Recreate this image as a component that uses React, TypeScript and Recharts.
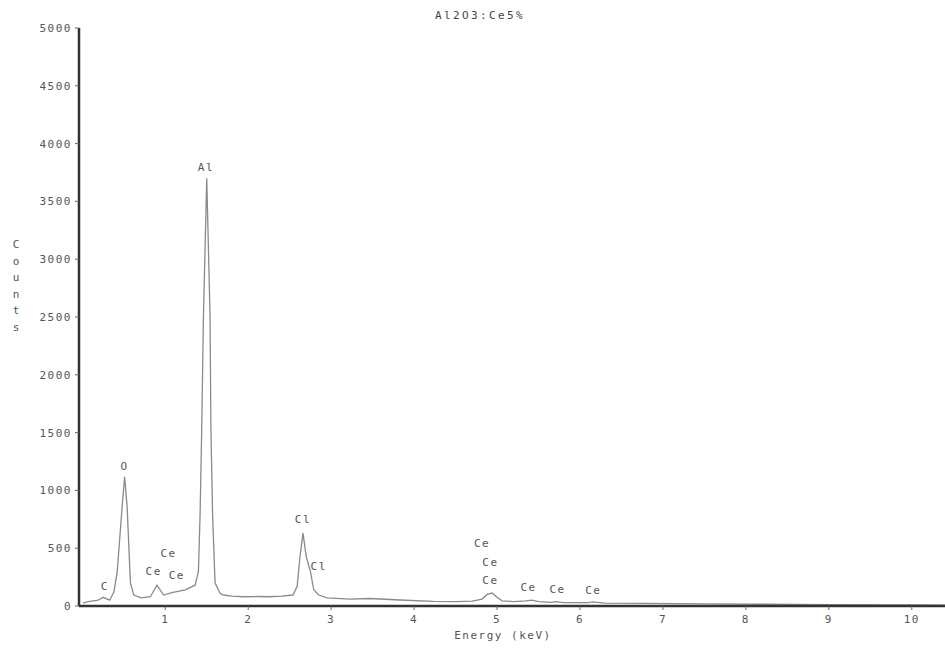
import React from "react";
import { ComposedChart, Line, Scatter, XAxis, YAxis } from "recharts";

// EDS spectrum: energy (keV) and counts
const energy = [
  0.01, 0.07, 0.19, 0.25, 0.33, 0.38, 0.42, 0.48, 0.51, 0.54, 0.58, 0.62,
  0.71, 0.82, 0.9, 0.98, 1.08, 1.24, 1.36, 1.4, 1.42, 1.44, 1.46, 1.5,
  1.54, 1.55, 1.57, 1.6, 1.66, 1.7, 1.8, 1.94, 2.1, 2.25, 2.4, 2.54, 2.59,
  2.62, 2.66, 2.7, 2.75, 2.79, 2.85, 2.95, 3.23, 3.47, 3.83, 4.23, 4.5,
  4.7, 4.82, 4.88, 4.94, 5.0, 5.06, 5.2, 5.35, 5.42, 5.5, 5.65, 5.7, 5.8,
  6.1, 6.15, 6.3, 6.8, 7.5, 8.2, 9.0, 10.0, 10.4,
];
const counts = [
  25, 37, 50, 75, 50, 120, 290, 860, 1118, 860, 200, 95,
  70, 80, 180, 95, 115, 140, 180, 300, 800, 1550, 2500, 3700,
  2500, 1550, 800, 200, 110, 95, 85, 80, 82, 80, 85, 95, 170,
  400, 630, 425, 300, 140, 95, 70, 60, 65, 52, 40, 38,
  42, 60, 100, 112, 75, 45, 38, 45, 50, 38, 32, 38, 30,
  30, 35, 25, 22, 18, 15, 12, 10, 8,
];

// peak labels
const peakNames = ["C", "O", "Ce", "Ce", "Ce", "Al", "Cl", "Cl", "Ce", "Ce", "Ce", "Ce", "Ce", "Ce"];
const peakE = [0.27, 0.51, 0.86, 1.04, 1.14, 1.49, 2.66, 2.85, 4.82, 4.92, 4.92, 5.38, 5.73, 6.16];
const peakC = [166, 1211, 296, 456, 268, 3789, 750, 340, 537, 375, 219, 162, 145, 132];

const xTicks = [1, 2, 3, 4, 5, 6, 7, 8, 9, 10];
const yTicks = [0, 500, 1000, 1500, 2000, 2500, 3000, 3500, 4000, 4500, 5000];

const spectrum = energy.map((e, i) => ({ e, c: counts[i] }));
const peaks = peakNames.map((text, i) => ({ e: peakE[i], c: peakC[i], text }));

const mono = "'DejaVu Sans Mono', monospace";
const txt = "#555";
const tickStyle = { fontSize: 11, fill: txt, fontFamily: mono, letterSpacing: 1.5 };

const PeakLabel = (props: any) => (
  <text
    x={props.cx}
    y={props.cy}
    textAnchor="middle"
    dominantBaseline="central"
    fontSize={11}
    fontFamily={mono}
    letterSpacing={1.5}
    fill={txt}
  >
    {props.payload.text}
  </text>
);

export default function App() {
  return (
    <div style={{ position: "absolute", left: 0, top: 0, width: 945, height: 648, background: "#fff" }}>
      <div style={{ position: "absolute", left: 380, top: 9, width: 200, textAlign: "center", font: `11px ${mono}`, letterSpacing: 2.4, color: "#444" }}>
        Al2O3:Ce5%
      </div>
      <div style={{ position: "absolute", left: 9, top: 237, width: 14, textAlign: "center", font: `11px ${mono}`, lineHeight: "16.5px", color: txt }}>
        {"Counts".split("").map((ch, i) => <div key={i}>{ch}</div>)}
      </div>
      <div style={{ position: "absolute", left: 403, top: 629, width: 200, textAlign: "center", font: `11px ${mono}`, letterSpacing: 1.5, color: txt }}>
        Energy (keV)
      </div>
      <ComposedChart width={945} height={648} margin={{ top: 28, right: 0, bottom: 12, left: 19 }}>
        <XAxis
          type="number"
          dataKey="e"
          domain={[-0.04, 10.4]}
          ticks={xTicks}
          allowDataOverflow
          height={30}
          axisLine={{ stroke: "#333", strokeWidth: 2.5 }}
          tickLine={{ stroke: "#666" }}
          tickSize={4}
          tickMargin={5}
          tick={tickStyle}
        />
        <YAxis
          type="number"
          dataKey="c"
          domain={[0, 5000]}
          ticks={yTicks}
          width={60}
          axisLine={{ stroke: "#333", strokeWidth: 2.5 }}
          tickLine={{ stroke: "#666" }}
          tickSize={4}
          tickMargin={3}
          tick={tickStyle}
        />
        <Line
          data={spectrum}
          dataKey="c"
          type="linear"
          stroke="#8a8a8a"
          strokeWidth={1.3}
          dot={false}
          isAnimationActive={false}
        />
        <Scatter data={peaks} dataKey="c" shape={PeakLabel} isAnimationActive={false} />
      </ComposedChart>
    </div>
  );
}
